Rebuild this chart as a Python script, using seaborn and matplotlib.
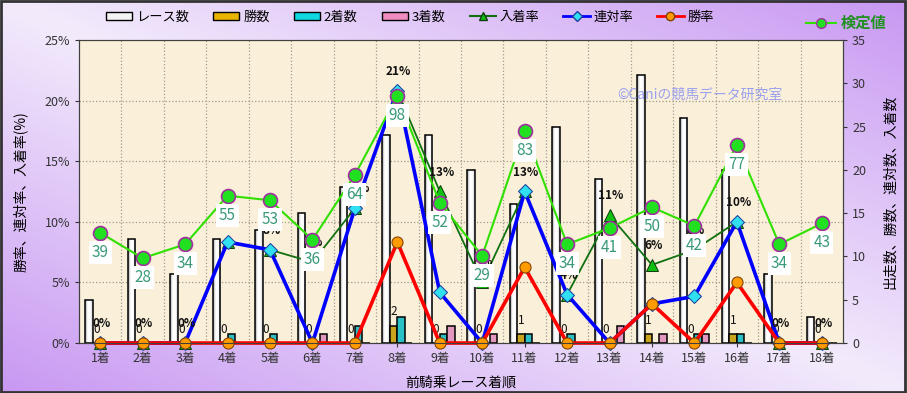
import numpy as np
import pandas as pd
import seaborn as sns
import matplotlib
matplotlib.use('Agg')
import matplotlib.pyplot as plt
from matplotlib.patches import Patch, Rectangle
from matplotlib.lines import Line2D
from matplotlib.colors import LinearSegmentedColormap

# data
places = ['1着', '2着', '3着', '4着', '5着', '6着', '7着', '8着', '9着',
          '10着', '11着', '12着', '13着', '14着', '15着', '16着', '17着', '18着']
races = [5, 12, 8, 12, 13, 15, 18, 24, 24, 20, 16, 25, 19, 31, 26, 20, 8, 3]
wins = [0, 0, 0, 0, 0, 0, 0, 2, 0, 0, 1, 0, 0, 1, 0, 1, 0, 0]
seconds = [0, 0, 0, 1, 1, 0, 2, 3, 1, 0, 1, 1, 0, 0, 1, 1, 0, 0]
thirds = [0, 0, 0, 0, 0, 1, 0, 0, 2, 1, 0, 0, 2, 1, 1, 0, 0, 0]
win_rate = [0, 0, 0, 0, 0, 0, 0, 8.33, 0, 0, 6.25, 0, 0, 3.23, 0, 5.0, 0, 0]
rentai_rate = [0, 0, 0, 8.33, 7.69, 0, 11.11, 20.83, 4.17, 0, 12.5, 4.0, 0, 3.23, 3.85, 10.0, 0, 0]
place_rate = [0, 0, 0, 8.33, 7.69, 6.67, 11.11, 20.83, 12.5, 5.0, 12.5, 4.0, 10.53, 6.45, 7.69, 10.0, 0, 0]
kentei = [39, 28, 34, 55, 53, 36, 64, 98, 52, 29, 83, 34, 41, 50, 42, 77, 34, 43]

series_names = ['レース数', '勝数', '2着数', '3着数']
bar_colors = ['#f4f4f4', '#e8b400', '#10d8e0', '#f08cc0']

plt.rcParams['font.family'] = ['Noto Sans CJK JP', 'DejaVu Sans']

df = pd.DataFrame({'着順': places * 4,
                   'series': np.repeat(series_names, len(places)),
                   'count': races + wins + seconds + thirds})

fig = plt.figure(figsize=(9.07, 3.93), dpi=100)

# purple gradient background
bg = fig.add_axes([0, 0, 1, 1], zorder=-1)
xx, yy = np.meshgrid(np.linspace(0, 1, 300), np.linspace(0, 1, 150))
bg_cmap = LinearSegmentedColormap.from_list('bg', ['#f3ebfc', '#c898f2'])
bg.imshow(np.abs(xx - yy), cmap=bg_cmap, aspect='auto', extent=[0, 1, 0, 1], vmin=0, vmax=1)
bg.set_axis_off()
fig.add_artist(Rectangle((0.001, 0.002), 0.997, 0.995, transform=fig.transFigure,
                         fill=False, edgecolor='#333333', linewidth=2))

ax = fig.add_axes([79 / 907, 50 / 393, 764 / 907, 303 / 393])
ax.set_facecolor('#faf0d9')

sns.barplot(data=df, x='着順', y='count', hue='series', palette=bar_colors,
            width=0.7, edgecolor='black', linewidth=1.1, ax=ax, legend=False, zorder=2)

# cylinder look for the race bars
bar_cmap = LinearSegmentedColormap.from_list('bar', ['#9a9a9a', '#ffffff', '#ffffff', '#c8c8c8'])
grad = np.linspace(0, 1, 50).reshape(1, -1)
for bar in ax.containers[0]:
    x0, w, h = bar.get_x(), bar.get_width(), bar.get_height()
    bar.set_facecolor('none')
    ax.imshow(grad, extent=[x0, x0 + w, 0, h], aspect='auto', cmap=bar_cmap, zorder=1.9)

for v in [7, 14, 21, 28]:
    ax.axhline(v, color='#a09a90', linestyle=':', linewidth=0.9, zorder=0.5)
for i in range(len(places) - 1):
    ax.axvline(i + 0.5, color='#a09a90', linestyle=':', linewidth=0.9, zorder=0.5)

ax.set_xlim(-0.5, len(places) - 0.5)
ax.set_ylim(0, 35)
ax.set_yticks(range(0, 36, 5))
ax.set_xlabel('前騎乗レース着順', fontsize=10, labelpad=8)
ax.tick_params(axis='both', labelsize=9, colors='#333333', length=3)
for s in ax.spines.values():
    s.set_color('#404040')

for i, w in enumerate(wins):
    ax.annotate(f'{w}', (i - 0.09, w), xytext=(0, 10), textcoords='offset points',
                ha='center', va='center', fontsize=8.5, color='#111111', zorder=5)
ax.text(0.813, 0.818, '©Caniの競馬データ研究室', transform=ax.transAxes, ha='center',
        va='center', fontsize=10, color='#9aa0f0', zorder=3)

# rate lines
ax2 = ax.twinx()
xpos = np.arange(len(places))
sns.lineplot(x=xpos, y=place_rate, ax=ax2, color='#107010', linewidth=1.3, marker='^',
             markersize=9, markerfacecolor='#10c010', markeredgecolor='#104010', clip_on=False)
sns.lineplot(x=xpos, y=rentai_rate, ax=ax2, color='#0000ff', linewidth=2.6, marker='D',
             markersize=7, markerfacecolor='#30e0f0', markeredgecolor='#2040a0', clip_on=False)
sns.lineplot(x=xpos, y=win_rate, ax=ax2, color='#ff0000', linewidth=2.6, marker='o',
             markersize=8, markerfacecolor='#ff9a00', markeredgecolor='#804000', clip_on=False)
ax2.set_ylim(0, 25)
ax2.set_yticks(range(0, 26, 5))
ax2.set_yticklabels([f'{t}%' for t in range(0, 26, 5)])
ax2.tick_params(axis='y', labelsize=9, colors='#333333', length=3)
for s in ax2.spines.values():
    s.set_color('#404040')

for i, v in enumerate(place_rate):
    ax2.annotate(f'{int(v + 0.5)}%', (i, v), xytext=(1, 14), textcoords='offset points',
                 ha='center', va='center', fontsize=8.5, fontweight='bold', color='#111111')

# 検定値 on its own hidden scale
ax3 = ax.twinx()
sns.lineplot(x=xpos, y=kentei, ax=ax3, color='#30e000', linewidth=1.5, marker='o',
             markersize=10, markerfacecolor='#20e020', markeredgecolor='#a030a0',
             markeredgewidth=1.2)
ax3.set_ylim(-8.6, 122.2)
ax3.set_axis_off()
for i, v in enumerate(kentei):
    ax3.annotate(f'{v}', (i, v), xytext=(0, -14), textcoords='offset points', ha='center',
                 va='center', fontsize=11, color='#3a9a78',
                 bbox=dict(boxstyle='square,pad=0.2', facecolor='white', edgecolor='none'))

# twinx moves ticks around, so fix the sides at the end
ax.yaxis.tick_right()
ax.yaxis.set_label_position('right')
ax.set_ylabel('出走数、勝数、連対数、入着数', fontsize=10, labelpad=12)
ax2.yaxis.tick_left()
ax2.yaxis.set_label_position('left')
ax2.set_ylabel('勝率、連対率、入着率(%)', fontsize=10, labelpad=12)

handles = [Patch(facecolor=c, edgecolor='black') for c in bar_colors] + [
    Line2D([], [], color='#107010', marker='^', markerfacecolor='#10c010',
           markeredgecolor='#104010', markersize=6),
    Line2D([], [], color='#0000ff', linewidth=2, marker='D', markerfacecolor='#30e0f0',
           markeredgecolor='#2040a0', markersize=5),
    Line2D([], [], color='#ff0000', linewidth=2, marker='o', markerfacecolor='#ff9a00',
           markeredgecolor='#804000', markersize=6)]
labels = series_names + ['入着率', '連対率', '勝率']
fig.legend(handles, labels, ncol=7, loc='center left', bbox_to_anchor=(94 / 907, 1 - 17 / 393),
           frameon=False, fontsize=9.5, handlelength=2.0, handleheight=0.5,
           handletextpad=0.3, columnspacing=1.8)
fig.legend([Line2D([], [], color='#30e000', marker='o', markerfacecolor='#20e020',
                   markeredgecolor='#a030a0', markersize=7)], ['検定値'],
           loc='center left', bbox_to_anchor=(792 / 907, 1 - 23 / 393), frameon=False,
           prop={'size': 11, 'weight': 'bold'}, handlelength=2.0, handletextpad=0.3,
           labelcolor='#209020')

fig.savefig('out.png', dpi=100)
